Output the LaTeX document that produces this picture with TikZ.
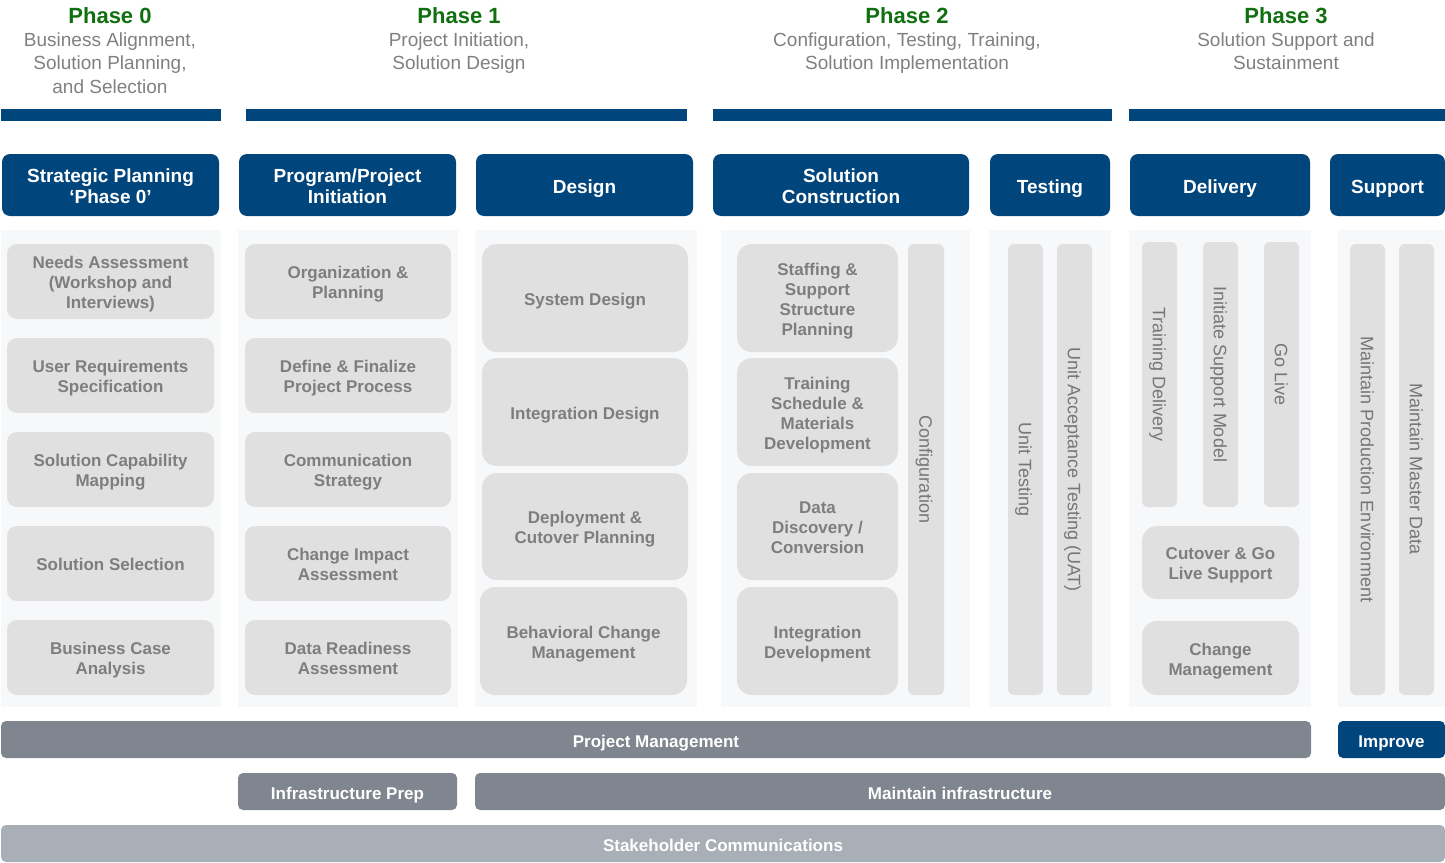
\documentclass[tikz,border=0pt]{standalone}
\usepackage{fontspec}
\setmainfont{Liberation Sans}
\definecolor{navy}{RGB}{0,69,124}
\definecolor{phgreen}{RGB}{16,112,16}
\definecolor{subgray}{RGB}{128,128,128}
\definecolor{colbgc}{RGB}{247,248,250}
\definecolor{itemc}{RGB}{224,224,224}
\definecolor{itemt}{RGB}{126,126,126}
\definecolor{vtext}{RGB}{118,118,118}
\definecolor{barc}{RGB}{127,134,144}
\definecolor{barlight}{RGB}{168,175,183}
\tikzset{
  every node/.style={inner sep=0pt, outer sep=0pt},
  phtitle/.style={text=phgreen, font=\fontsize{22}{24}\selectfont\bfseries, anchor=base},
  phsub/.style={text=subgray, font=\fontsize{19}{23.5}\selectfont, align=center, anchor=north},
  topbar/.style={fill=navy},
  colbg/.style={fill=colbgc},
  hdr/.style={fill=navy, rounded corners=8pt},
  hdr txt/.style={text=white, font=\fontsize{19}{21}\selectfont\bfseries, align=center, text depth=4pt, yshift=-3pt},
  hdrone/.style={hdr},
  hdrone txt/.style={text=white, font=\fontsize{19}{21}\selectfont\bfseries, align=center, text depth=4pt, yshift=-4pt},
  item/.style={fill=itemc, rounded corners=10pt},
  item txt/.style={text=itemt, font=\fontsize{17}{20}\selectfont\bfseries, align=center, text depth=3.6pt, yshift=-3pt},
  bigitem/.style={item, rounded corners=15pt},
  bigitem txt/.style={item txt},
  vbar/.style={fill=itemc, rounded corners=6pt},
  vbar txt/.style={text=vtext, font=\fontsize{18}{20}\selectfont, text depth=3.8pt, rotate=-90},
  gbar/.style={fill=barc, rounded corners=5pt},
  gbar txt/.style={text=white, font=\fontsize{17}{20}\selectfont\bfseries, text depth=3.6pt, yshift=-4pt},
  lbar/.style={gbar, fill=barlight},
  lbar txt/.style={gbar txt},
  nbar/.style={gbar, fill=navy},
  nbar txt/.style={gbar txt},
}
\newcommand\bx[7]{\node[#6, minimum width={(#4)-(#2)}, minimum height={(#5)-(#3)}] (#1) at ({((#2)+(#4))/2},{((#3)+(#5))/2}) {};
  \node[#6 txt] (#1-t) at (#1.center) {#7};}
\newcommand\vb[6]{\node[vbar, minimum width={(#4)-(#2)}, minimum height={(#5)-(#3)}] (#1) at ({((#2)+(#4))/2},{((#3)+(#5))/2}) {};
  \node[vbar txt] (#1-t) at ([xshift=-2pt]#1.center) {#6};}
\begin{document}
\begin{tikzpicture}[x=1pt,y=-1pt]
\useasboundingbox (0,0) rectangle (1445,862);
% phase titles
\node[phtitle] (p0) at (110,23.5) {Phase 0};
\node[phsub] (s0) at (110,32.5) {Business Alignment,\\Solution Planning,\\and Selection};
\node[phtitle] (p1) at (459,23.5) {Phase 1};
\node[phsub] (s1) at (459,32.5) {Project Initiation,\\Solution Design};
\node[phtitle] (p2) at (907,23.5) {Phase 2};
\node[phsub] (s2) at (907,32.5) {Configuration, Testing, Training,\\Solution Implementation};
\node[phtitle] (p3) at (1286,23.5) {Phase 3};
\node[phsub] (s3) at (1286,32.5) {Solution Support and\\Sustainment};
% top bars
\fill[topbar] (1,109) rectangle (221,121);
\fill[topbar] (246,109) rectangle (687,121);
\fill[topbar] (713,109) rectangle (1112,121);
\fill[topbar] (1129,109) rectangle (1445,121);
% header boxes
\bx{h1}{2}{154}{219}{216}{hdr}{Strategic Planning\\‘Phase 0’}
\bx{h2}{239}{154}{456}{216}{hdr}{Program/Project\\Initiation}
\bx{h3}{476}{154}{693}{216}{hdrone}{Design}
\bx{h4}{713}{154}{969}{216}{hdr}{Solution\\Construction}
\bx{h5}{990}{154}{1110}{216}{hdrone}{Testing}
\bx{h6}{1130}{154}{1310}{216}{hdrone}{Delivery}
\bx{h7}{1330}{154}{1445}{216}{hdrone}{Support}
% column backgrounds
\fill[colbg] (1,230) rectangle (221,707);
\fill[colbg] (238,230) rectangle (458,707);
\fill[colbg] (475,230) rectangle (697,707);
\fill[colbg] (721,230) rectangle (970,707);
\fill[colbg] (989,230) rectangle (1111,707);
\fill[colbg] (1129,230) rectangle (1311,707);
\fill[colbg] (1338,230) rectangle (1445,707);
% column 1
\bx{a1}{7}{244}{214}{319}{item}{Needs Assessment\\(Workshop and\\Interviews)}
\bx{a2}{7}{338}{214}{413}{item}{User Requirements\\Specification}
\bx{a3}{7}{432}{214}{507}{item}{Solution Capability\\Mapping}
\bx{a4}{7}{526}{214}{601}{item}{Solution Selection}
\bx{a5}{7}{620}{214}{695}{item}{Business Case\\Analysis}
% column 2
\bx{b1}{245}{244}{451}{319}{item}{Organization \&\\Planning}
\bx{b2}{245}{338}{451}{413}{item}{Define \& Finalize\\Project Process}
\bx{b3}{245}{432}{451}{507}{item}{Communication\\Strategy}
\bx{b4}{245}{526}{451}{601}{item}{Change Impact\\Assessment}
\bx{b5}{245}{620}{451}{695}{item}{Data Readiness\\Assessment}
% column 3
\bx{c1}{482}{244}{688}{352}{bigitem}{System Design}
\bx{c2}{482}{358}{688}{466}{bigitem}{Integration Design}
\bx{c3}{482}{473}{688}{580}{bigitem}{Deployment \&\\Cutover Planning}
\bx{c4}{480}{587}{687}{695}{bigitem}{Behavioral Change\\Management}
% column 4
\bx{d1}{737}{244}{898}{352}{bigitem}{Staffing \&\\Support\\Structure\\Planning}
\bx{d2}{737}{358}{898}{466}{bigitem}{Training\\Schedule \&\\Materials\\Development}
\bx{d3}{737}{473}{898}{580}{bigitem}{Data\\Discovery /\\Conversion}
\bx{d4}{737}{587}{898}{695}{bigitem}{Integration\\Development}
\vb{d5}{908}{244}{944}{695}{Configuration}
% column 5
\vb{e1}{1008}{244}{1043}{695}{Unit Testing}
\vb{e2}{1057}{244}{1092}{695}{Unit Acceptance Testing (UAT)}
% column 6
\vb{f1}{1142}{242}{1177}{507}{Training Delivery}
\vb{f2}{1203}{242}{1238}{507}{Initiate Support Model}
\vb{f3}{1264}{242}{1299}{507}{Go Live}
\bx{f4}{1142}{526}{1299}{599}{bigitem}{Cutover \& Go\\Live Support}
\bx{f5}{1142}{621}{1299}{695}{bigitem}{Change\\Management}
% column 7
\vb{g1}{1350}{244}{1385}{695}{Maintain Production Environment}
\vb{g2}{1399}{244}{1434}{695}{Maintain Master Data}
% bottom bars
\bx{pm}{1}{721}{1311}{758}{gbar}{Project Management}
\bx{imp}{1338}{721}{1445}{758}{nbar}{Improve}
\bx{ip}{238}{773}{457}{810}{gbar}{Infrastructure Prep}
\bx{mi}{475}{773}{1445}{810}{gbar}{Maintain infrastructure}
\bx{sc}{1}{825}{1445}{862}{lbar}{Stakeholder Communications}
\end{tikzpicture}
\end{document}
